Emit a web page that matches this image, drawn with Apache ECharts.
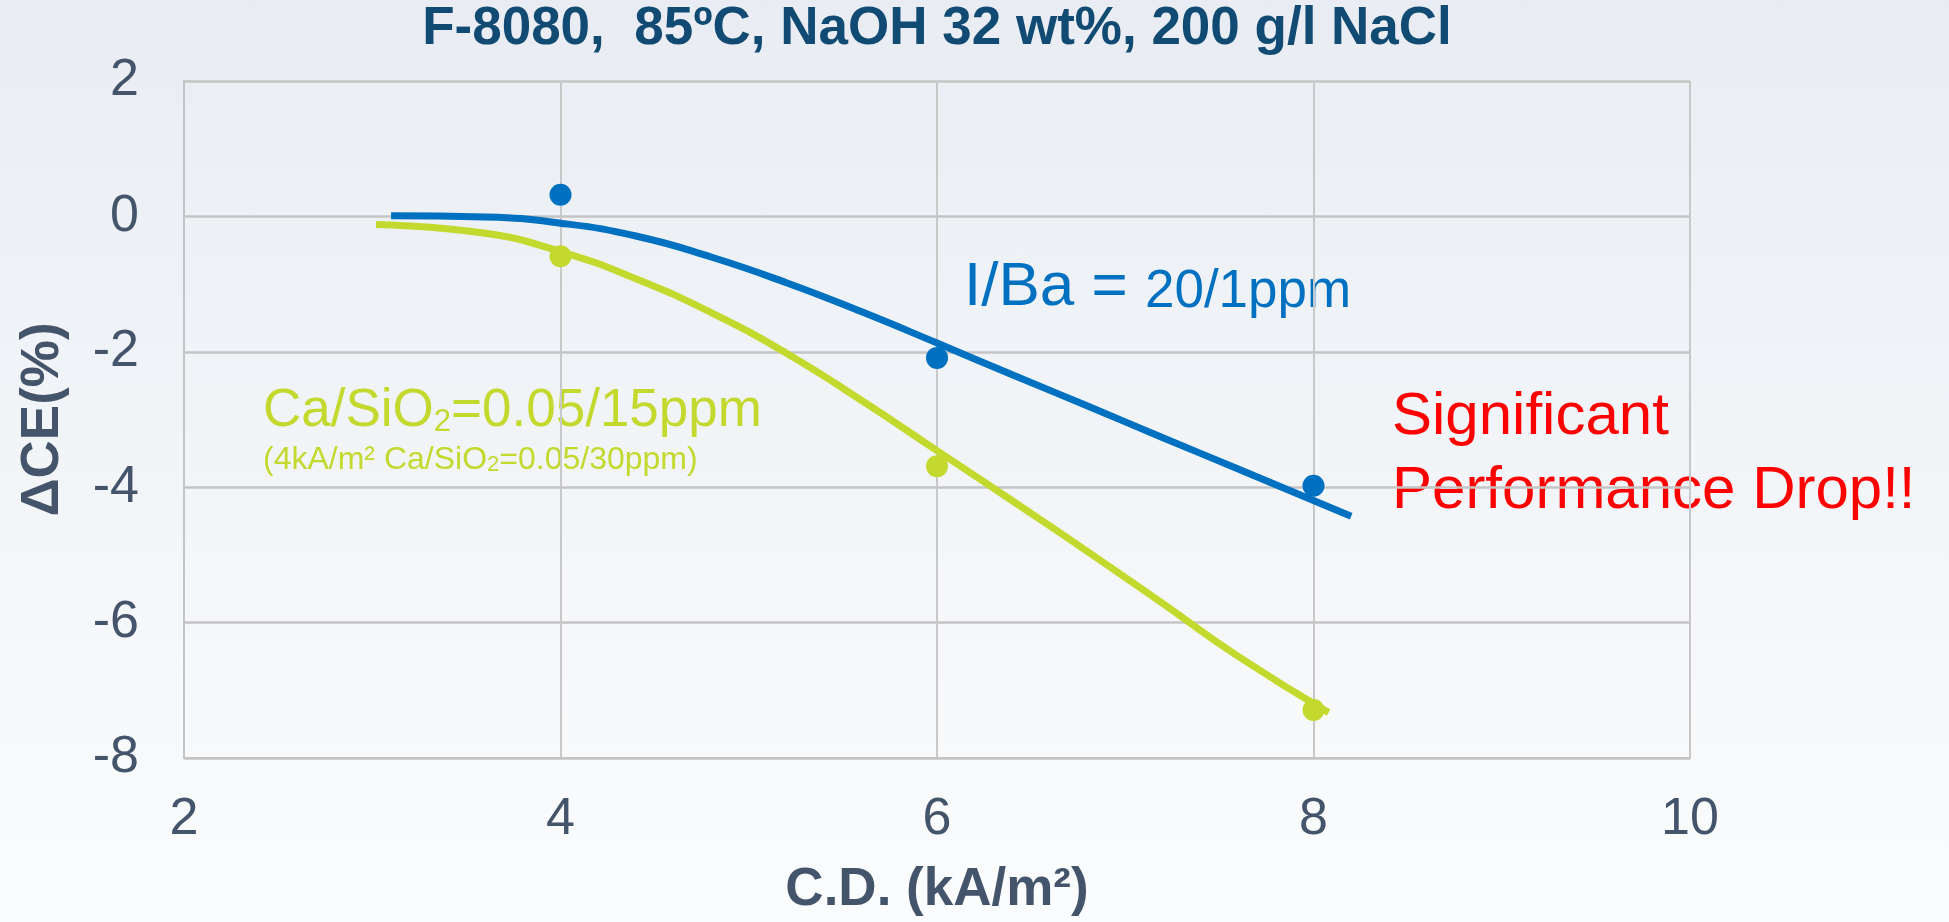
<!DOCTYPE html>
<html lang="en">
<head>
<meta charset="UTF-8">
<title>F-8080 ΔCE vs C.D.</title>
<script src="https://cdn.jsdelivr.net/npm/echarts@6.0.0/dist/echarts.min.js"></script>
<style>
    html, body { margin: 0; padding: 0; }
    #chart { width: 1949px; height: 922px; background: linear-gradient(#e9edf3, #fbfcfd); }
</style>
</head>
<body>
<div id="chart"></div>
<script>
    // measured points
    var cd = [4, 6, 8];
    var ceIBa = [0.32, -2.09, -3.98];
    var ceCaSi = [-0.59, -3.69, -7.29];

    // trend curves
    var trendIBaX = [3.1, 3.6, 4.0, 4.4, 4.8, 5.2, 5.6, 6.0, 6.4, 6.8, 7.2, 7.6, 8.2];
    var trendIBaY = [0.01, -0.01, -0.1, -0.29, -0.6, -0.98, -1.41, -1.87, -2.34, -2.8, -3.27, -3.73, -4.43];
    var trendCaSiX = [3.02, 3.6, 4.0, 4.4, 4.8, 5.2, 5.6, 6.0, 6.4, 6.8, 7.2, 7.6, 8.08];
    var trendCaSiY = [-0.12, -0.25, -0.52, -0.92, -1.42, -2.02, -2.72, -3.46, -4.2, -4.95, -5.72, -6.5, -7.33];

    var xMin = 2, xMax = 10, xStep = 2;
    var yMin = -8, yMax = 2, yStep = 2;

    var blue = '#0070c0';
    var green = '#c4d92e';
    var ink = '#44546a';
    var font = '"Liberation Sans", Arial, sans-serif';

    function zip(xs, ys) {
        return xs.map(function (x, i) { return [x, ys[i]]; });
    }

    var chart = echarts.init(document.getElementById('chart'));

    chart.setOption({
        backgroundColor: 'transparent',
        title: {
            text: 'F-8080,  85ºC, NaOH 32 wt%, 200 g/l NaCl',
            left: 937,
            top: 3,
            padding: 0,
            textAlign: 'center',
            textStyle: {color: '#114a72', fontSize: 53, fontWeight: 'bold', fontFamily: font}
        },
        grid: {left: 184, right: 259, top: 81, bottom: 163},
        xAxis: {
            type: 'value',
            min: xMin, max: xMax, interval: xStep,
            name: 'C.D. (kA/m²)',
            nameLocation: 'middle',
            nameGap: 106,
            nameTextStyle: {color: ink, fontSize: 53, fontWeight: 'bold', fontFamily: font},
            axisLine: {show: true, onZero: false, lineStyle: {color: '#c4c4c4', width: 2}},
            axisTick: {show: false},
            axisLabel: {color: ink, fontSize: 52, fontFamily: font, margin: 36},
            splitLine: {show: true, lineStyle: {color: '#c8c8c8', width: 2}}
        },
        yAxis: {
            type: 'value',
            min: yMin, max: yMax, interval: yStep,
            name: 'ΔCE(%)',
            nameLocation: 'middle',
            nameGap: 114,
            nameTextStyle: {color: ink, fontSize: 53, fontWeight: 'bold', fontFamily: font},
            axisLine: {show: true, lineStyle: {color: '#c4c4c4', width: 2}},
            axisTick: {show: false},
            axisLabel: {color: ink, fontSize: 52, fontFamily: font, margin: 45},
            splitLine: {show: true, lineStyle: {color: '#c4c4c4', width: 2.5}}
        },
        series: [
            {
                name: 'I/Ba points',
                type: 'scatter',
                data: zip(cd, ceIBa),
                symbolSize: 22,
                itemStyle: {color: blue, opacity: 1},
                z: 2
            },
            {
                name: 'Ca/SiO2 points',
                type: 'scatter',
                data: zip(cd, ceCaSi),
                symbolSize: 22,
                itemStyle: {color: green, opacity: 1},
                z: 2
            },
            {
                name: 'I/Ba trend',
                type: 'line',
                data: zip(trendIBaX, trendIBaY),
                smooth: 0.5,
                showSymbol: false,
                lineStyle: {color: blue, width: 7},
                z: 3
            },
            {
                name: 'Ca/SiO2 trend',
                type: 'line',
                data: zip(trendCaSiX, trendCaSiY),
                smooth: 0.5,
                showSymbol: false,
                lineStyle: {color: green, width: 7},
                z: 3
            }
        ],
        graphic: [
            {
                type: 'text',
                left: 964, top: 257,
                style: {
                    text: '{a|I/Ba = }{b|20/1ppm}',
                    rich: {
                        a: {fill: blue, fontSize: 62, fontFamily: font, lineHeight: 70, verticalAlign: 'bottom'},
                        b: {fill: blue, fontSize: 53, fontFamily: font, lineHeight: 64, verticalAlign: 'bottom'}
                    }
                }
            },
            {
                type: 'text',
                left: 263, top: 385,
                style: {
                    text: '{a|Ca/SiO}{s|2}{a|=0.05/15ppm}',
                    rich: {
                        a: {fill: green, fontSize: 53, fontFamily: font, lineHeight: 60, verticalAlign: 'bottom'},
                        s: {fill: green, fontSize: 31, fontFamily: font, lineHeight: 29, verticalAlign: 'bottom'}
                    }
                }
            },
            {
                type: 'text',
                left: 263, top: 444,
                style: {
                    text: '{a|(4kA/m² Ca/SiO}{s|2}{a|=0.05/30ppm)}',
                    rich: {
                        a: {fill: green, fontSize: 32, fontFamily: font, lineHeight: 40, verticalAlign: 'bottom'},
                        s: {fill: green, fontSize: 22, fontFamily: font, lineHeight: 21, verticalAlign: 'bottom'}
                    }
                }
            },
            {
                type: 'text',
                left: 1392, top: 380,
                style: {
                    text: 'Significant\nPerformance Drop!!',
                    fill: '#ff0000',
                    fontSize: 60,
                    fontFamily: font,
                    lineHeight: 74
                }
            }
        ]
    });
</script>
</body>
</html>
